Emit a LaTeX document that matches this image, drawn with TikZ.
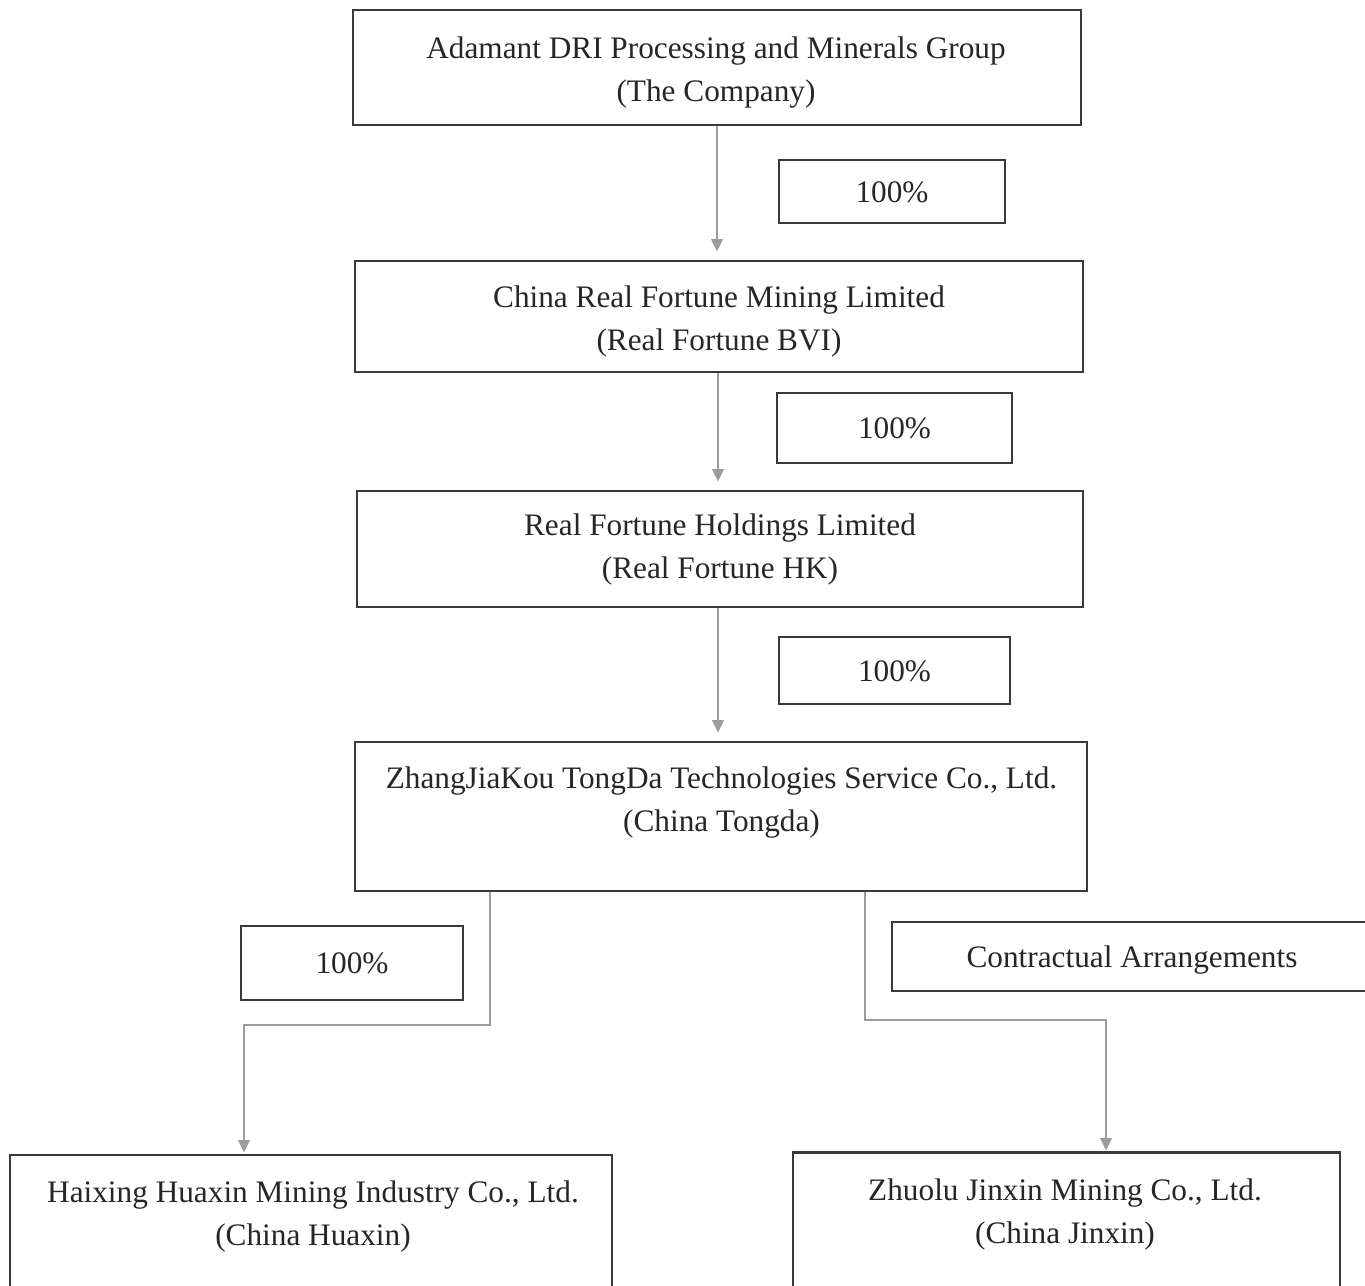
\documentclass[tikz,border=0pt]{standalone}
\usepackage{fontspec}
\setmainfont{Liberation Serif}
\usetikzlibrary{positioning,arrows.meta}
\definecolor{boxline}{HTML}{3A3A3A}
\definecolor{linkline}{HTML}{9C9C9C}
\definecolor{inkgray}{HTML}{262626}
\tikzset{
  firm/.style={draw=boxline, line width=1.6pt, rectangle, inner sep=0pt},
  firmtext/.style={inner sep=0pt, align=center, text=inkgray,
    font=\fontsize{17.8}{24.4}\selectfont},
  share/.style={firm, text=inkgray, font=\fontsize{17.8}{24.4}\selectfont,
    text height=12pt, text depth=0pt},
  link/.style={draw=linkline, line width=1.2pt,
    -{Triangle[length=0.25cm,width=0.23cm]}, shorten >=0.16cm}
}
\begin{document}
\begin{tikzpicture}[x=0.02cm, y=-0.02cm]
  \fill[white] (0,0) rectangle (1365,1285);
  \clip (0,0) rectangle (1365,1285);

  % ownership chain
  \node[firm, minimum width=14.56cm, minimum height=2.3cm] (company) at (717,67.5) {};
  \node[firmtext] (companytext) at (716,72.5)
    {Adamant DRI Processing and Minerals Group\\(The Company)};
  \node[firm, minimum width=14.56cm, minimum height=2.22cm] (bvi) at (719,316.5) {};
  \node[firmtext] (bvitext) at (719,321.5)
    {China Real Fortune Mining Limited\\(Real Fortune BVI)};
  \node[firm, minimum width=14.52cm, minimum height=2.32cm] (hk) at (720,549) {};
  \node[firmtext] (hktext) at (720,549.5)
    {Real Fortune Holdings Limited\\(Real Fortune HK)};
  \node[firm, minimum width=14.64cm, minimum height=2.98cm] (tongda) at (721,816.5) {};
  \node[firmtext] (tongdatext) at (721.5,802.5)
    {ZhangJiaKou TongDa Technologies Service Co., Ltd.\\(China Tongda)};

  % percentages
  \node[share, minimum width=4.52cm, minimum height=1.26cm] (pct1) at (892,191.5) {100\%};
  \node[share, minimum width=4.7cm, minimum height=1.4cm] (pct2) at (894.5,428) {100\%};
  \node[share, minimum width=4.62cm, minimum height=1.34cm] (pct3) at (894.5,670.5) {100\%};
  \node[share, minimum width=4.44cm, minimum height=1.48cm] (pct4) at (352,963) {100\%};
  \node[share, minimum width=9.6cm, minimum height=1.38cm] (contract) at (1132,956.5)
    {Contractual Arrangements};

  % subsidiaries
  \node[firm, minimum width=12.04cm, minimum height=3.3cm] (huaxin) at (311,1237.5) {};
  \node[firmtext] (huaxintext) at (313,1216.5)
    {Haixing Huaxin Mining Industry Co., Ltd.\\(China Huaxin)};
  \node[firm, minimum width=10.94cm, minimum height=3.34cm] (jinxin) at (1066.5,1236) {};
  \node[firmtext] (jinxintext) at (1065,1214.5)
    {Zhuolu Jinxin Mining Co., Ltd.\\(China Jinxin)};

  \coordinate (lsplit) at (490,1025);
  \coordinate (hxin) at (244,1155);
  \coordinate (rsplit) at (865,1020);
  \coordinate (jxin) at (1106,1153);

  \draw[link] (company.south) -- (company.south |- bvi.north);
  \draw[link] (bvi.south -| 718,0) -- (hk.north -| 718,0);
  \draw[link] (hk.south -| 718,0) -- (tongda.north -| 718,0);
  \draw[link, shorten >=0.05cm] (tongda.south -| lsplit) -- (lsplit) -| (hxin);
  \draw[link, shorten >=0.05cm] (tongda.south -| rsplit) -- (rsplit) -| (jxin);
\end{tikzpicture}
\end{document}
